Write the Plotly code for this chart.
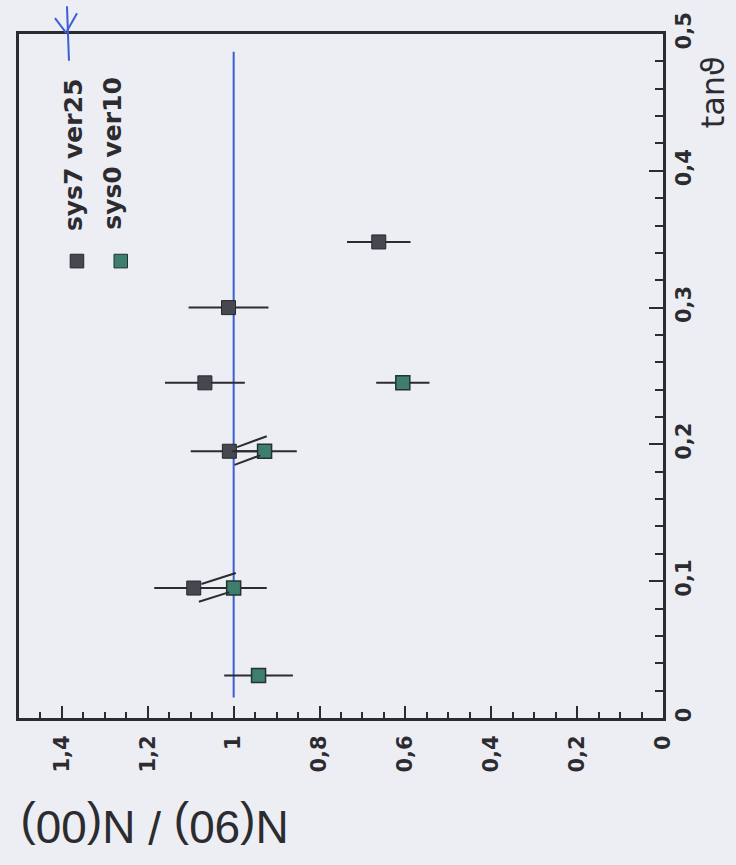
import plotly.graph_objects as go

# N(90)/N(00) ratio versus tan(theta) for two detector configurations
tan_sys7 = [0.095, 0.195, 0.245, 0.30, 0.348]
ratio_sys7 = [1.093, 1.010, 1.067, 1.012, 0.662]
err_sys7 = [0.092, 0.090, 0.093, 0.093, 0.074]

tan_sys0 = [0.031, 0.095, 0.195, 0.245]
ratio_sys0 = [0.942, 1.000, 0.928, 0.606]
err_sys0 = [0.080, 0.077, 0.075, 0.062]

# constant reference line at ratio = 1
ref_ratio = [1.0, 1.0]
ref_tan = [0.015, 0.487]

ratio_ticks = [0, 0.2, 0.4, 0.6, 0.8, 1.0, 1.2, 1.4]
ratio_labels = ["0", "0,2", "0,4", "0,6", "0,8", "1", "1,2", "1,4"]
tan_ticks = [0, 0.1, 0.2, 0.3, 0.4, 0.5]
tan_labels = ["0", "0,1", "0,2", "0,3", "0,4", "0,5"]

BG = "#eceef4"
INK = "#2b2b30"
BLUE = "#3b5fd6"
SYS7 = "#47474f"
SYS0 = "#3e7e6c"

fig = go.Figure()

fig.add_trace(go.Scatter(
    x=ref_ratio, y=ref_tan, mode="lines",
    line=dict(color=BLUE, width=2), showlegend=False, hoverinfo="skip"))

fig.add_trace(go.Scatter(
    x=ratio_sys7, y=tan_sys7, mode="markers", name="sys7 ver25",
    marker=dict(symbol="square", size=14, color=SYS7,
                line=dict(color="#26262b", width=1)),
    error_x=dict(type="data", array=err_sys7, color=INK, thickness=2, width=0),
    showlegend=False))

fig.add_trace(go.Scatter(
    x=ratio_sys0, y=tan_sys0, mode="markers", name="sys0 ver10",
    marker=dict(symbol="square", size=14, color=SYS0,
                line=dict(color="#25332f", width=1.5)),
    error_x=dict(type="data", array=err_sys0, color=INK, thickness=2, width=0),
    showlegend=False))

# pen strokes linking the nearby paired measurements at equal tan(theta)
shapes = []
for t7, r7 in zip(tan_sys7, ratio_sys7):
    for t0, r0 in zip(tan_sys0, ratio_sys0):
        if abs(t7 - t0) < 1e-9 and 0.05 < abs(r7 - r0) < 0.2:
            shapes.append(dict(type="line", xref="x", yref="y",
                               x0=r7 - 0.018, y0=t7 + 0.003,
                               x1=r0 - 0.005, y1=t0 + 0.011,
                               line=dict(color=INK, width=2)))
            shapes.append(dict(type="line", xref="x", yref="y",
                               x0=r7 - 0.012, y0=t7 - 0.010,
                               x1=r0 + 0.010, y1=t0 - 0.003,
                               line=dict(color=INK, width=2)))

# legend swatches
for px, col, lc in [(0.090, SYS7, "#26262b"), (0.158, SYS0, "#25332f")]:
    shapes.append(dict(type="rect", xref="paper", yref="paper",
                       x0=px - 0.0105, x1=px + 0.0105,
                       y0=0.668 - 0.0100, y1=0.668 + 0.0100,
                       fillcolor=col, line=dict(color=lc, width=1)))

# hand-drawn blue pen mark at the top of the frame
for x0, y0, x1, y1 in [(0.0745, 1.0406, 0.0776, 0.961),
                       (0.0559, 1.0232, 0.0735, 1.0014),
                       (0.0901, 1.0304, 0.0745, 1.0043)]:
    shapes.append(dict(type="line", xref="paper", yref="paper",
                       x0=x0, y0=y0, x1=x1, y1=y1,
                       line=dict(color=BLUE, width=2)))

centered = dict(xref="paper", yref="paper", showarrow=False,
                xanchor="center", yanchor="middle")
annotations = [
    dict(text="sys7 ver25", x=0.0839, y=0.823, textangle=-90,
         font=dict(family="DejaVu Sans", size=25, color=INK, weight="bold"),
         **centered),
    dict(text="sys0 ver10", x=0.146, y=0.825, textangle=-90,
         font=dict(family="DejaVu Sans", size=25, color=INK, weight="bold"),
         **centered),
    dict(text="tanϑ", x=1.078, y=0.915, textangle=-90,
         font=dict(family="DejaVu Sans", size=32, color=INK),
         **centered),
    dict(text="N(90) / N(00)", x=0.211, y=-0.159, textangle=180,
         font=dict(family="Liberation Sans", size=46, color=INK),
         **centered),
]

fig.update_layout(
    width=736, height=865,
    margin=dict(l=19, r=73, t=28, b=147),
    paper_bgcolor=BG, plot_bgcolor=BG,
    shapes=shapes, annotations=annotations,
    showlegend=False,
)

fig.update_xaxes(
    range=[1.5, 0], tickvals=ratio_ticks, ticktext=ratio_labels,
    tickangle=-90, ticks="inside", ticklen=12, tickwidth=2, tickcolor=INK,
    minor=dict(dtick=0.05, ticks="inside", ticklen=6, tickwidth=2, tickcolor=INK),
    showline=True, linecolor=INK, linewidth=3, mirror=True,
    showgrid=False, zeroline=False, ticklabelstandoff=6,
    tickfont=dict(family="DejaVu Sans", size=21, color=INK, weight="bold"),
)

fig.update_yaxes(
    range=[0, 0.5], side="right", tickvals=tan_ticks, ticktext=tan_labels,
    tickangle=-90, ticks="inside", ticklen=14, tickwidth=2, tickcolor=INK,
    minor=dict(dtick=0.02, ticks="inside", ticklen=8, tickwidth=2, tickcolor=INK),
    showline=True, linecolor=INK, linewidth=3, mirror=True,
    showgrid=False, zeroline=False, ticklabelstandoff=0,
    tickfont=dict(family="DejaVu Sans", size=21, color=INK, weight="bold"),
)

fig.write_html("out.html")
